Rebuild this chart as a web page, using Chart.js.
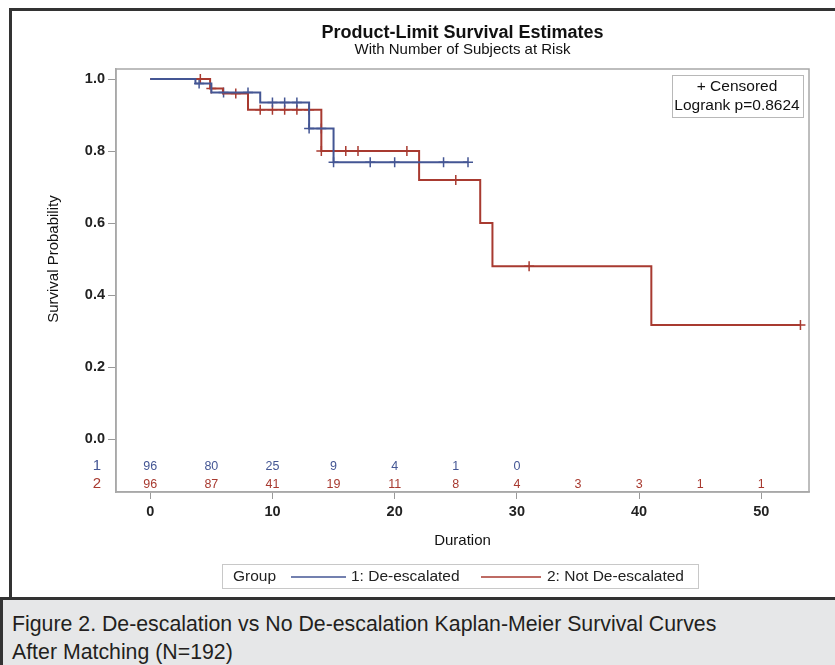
<!DOCTYPE html>
<html>
<head>
<meta charset="utf-8">
<script src="https://cdn.jsdelivr.net/npm/chart.js@4"></script>
<style>
body{margin:0;background:#fff;width:835px;height:665px;overflow:hidden;position:relative;font-family:"Liberation Sans",Arial,sans-serif}
#frame{position:absolute;left:9px;top:8px;width:830px;height:589px;border-left:3px solid #333;border-top:3px solid #333}
#wrap{position:absolute;left:0;top:0;width:835px;height:597px}
#caption{position:absolute;left:0;top:597px;width:835px;height:68px;background:#e6e7e8;border-top:3px solid #333;border-left:3px solid #333;box-sizing:border-box;padding:10px 0 0 9px;font-family:"Liberation Sans",Arial,sans-serif;font-size:21.3px;line-height:28px;color:#231f20}
</style>
</head>
<body>
<div id="frame"></div>
<div id="wrap"><canvas id="km" width="835" height="597"></canvas></div>
<div id="caption">Figure 2. De-escalation vs No De-escalation Kaplan-Meier Survival Curves<br>After Matching (N=192)</div>
<script>
// group 1 : De-escalated
const t1 = [0, 3.7, 5.0, 9.0, 13.0, 15.0, 26.0]
const s1 = [1.0, 0.988, 0.963, 0.935, 0.863, 0.769, 0.769]
const cens1 = [4.0, 6.0, 8.0, 10.0, 11.0, 12.0, 13.0, 14.0, 15.0, 18.0, 20.0, 24.0, 26.0]
// group 2 : Not De-escalated
const t2 = [0, 4.9, 5.95, 8.0, 14.0, 22.0, 27.0, 28.0, 41.0, 53.2]
const s2 = [1.0, 0.974, 0.96, 0.915, 0.80, 0.72, 0.60, 0.48, 0.317, 0.317]
const cens2 = [4.1, 5.0, 7.0, 9.0, 10.0, 11.0, 12.0, 13.0, 14.0, 16.0, 17.0, 21.0, 25.0, 31.0, 53.2]
// number at risk
const riskTimes = [0, 5, 10, 15, 20, 25, 30, 35, 40, 45, 50]
const risk1 = [96, 80, 25, 9, 4, 1, 0]
const risk2 = [96, 87, 41, 19, 11, 8, 4, 3, 3, 1, 1]
const xTicks = [0, 10, 20, 30, 40, 50]
const yTicks = [0, 0.2, 0.4, 0.6, 0.8, 1.0]

const BLUE = "#445694"
const RED = "#a83a30"
const FONT = '"Liberation Sans",Arial,sans-serif'

const surv = (t, s, x)=>{
    let v = s[0]
    for(let i in t){
        if(t[i] <= x) v = s[i]
    }
    return v
}
const toPts = (t, s)=> t.map((x, i)=>({x: x, y: s[i]}))
const censPts = (c, t, s)=> c.map((x)=>({x: x, y: surv(t, s, x)}))

const extras = {
    id: "extras",
    afterDraw(chart){
        const ctx = chart.ctx
        const a = chart.chartArea
        const xs = chart.scales.x
        const ys = chart.scales.y
        ctx.save()
        // plot frame
        ctx.strokeStyle = "#a8a8a8"
        ctx.lineWidth = 1.5
        ctx.strokeRect(a.left, a.top, a.right - a.left, a.bottom - a.top)
        // titles
        const cx = (a.left + a.right) / 2
        ctx.fillStyle = "#111"
        ctx.textAlign = "center"
        ctx.textBaseline = "middle"
        ctx.font = 'bold 18px ' + FONT
        ctx.fillText("Product-Limit Survival Estimates", cx, 33)
        ctx.font = '15px ' + FONT
        ctx.fillText("With Number of Subjects at Risk", cx, 50)
        // y axis title, centred on the 0..1 range
        ctx.save()
        ctx.translate(54, (ys.getPixelForValue(0) + ys.getPixelForValue(1)) / 2)
        ctx.rotate(-Math.PI / 2)
        ctx.fillText("Survival Probability", 0, 0)
        ctx.restore()
        // censored / logrank box
        ctx.strokeStyle = "#b8b8b8"
        ctx.lineWidth = 1
        ctx.strokeRect(672.5, 75.5, 131, 42)
        ctx.fillStyle = "#111"
        ctx.font = '15.5px ' + FONT
        ctx.fillText("+ Censored", 737, 87)
        ctx.fillText("Logrank p=0.8624", 737, 106)
        // at-risk table
        ctx.font = '12.5px ' + FONT
        const yr1 = ys.getPixelForValue(-0.075)
        const yr2 = ys.getPixelForValue(-0.125)
        ctx.fillStyle = BLUE
        risk1.forEach((n, i)=> ctx.fillText(String(n), xs.getPixelForValue(riskTimes[i]), yr1))
        ctx.fillStyle = RED
        risk2.forEach((n, i)=> ctx.fillText(String(n), xs.getPixelForValue(riskTimes[i]), yr2))
        ctx.font = '15px ' + FONT
        ctx.fillStyle = BLUE
        ctx.fillText("1", 97, yr1)
        ctx.fillStyle = RED
        ctx.fillText("2", 97, yr2)
        // legend
        ctx.strokeStyle = "#c8c8c8"
        ctx.strokeRect(222.5, 564.5, 476, 24)
        ctx.font = '15.5px ' + FONT
        ctx.textAlign = "left"
        ctx.fillStyle = "#222"
        ctx.fillText("Group", 233, 577)
        ctx.lineWidth = 1.5
        ctx.strokeStyle = BLUE
        ctx.beginPath(); ctx.moveTo(291, 577); ctx.lineTo(346, 577); ctx.stroke()
        ctx.fillText("1: De-escalated", 351, 577)
        ctx.strokeStyle = RED
        ctx.beginPath(); ctx.moveTo(481, 577); ctx.lineTo(541, 577); ctx.stroke()
        ctx.fillText("2: Not De-escalated", 547, 577)
        ctx.restore()
    }
}

const ctx = document.getElementById("km").getContext("2d")
const kmChart = new Chart(ctx, {
    type: "line",
    data: {
        datasets: [
            {
                label: "1: De-escalated",
                data: toPts(t1, s1),
                borderColor: BLUE,
                borderWidth: 2,
                stepped: "before",
                pointRadius: 0,
                fill: false
            },
            {
                label: "2: Not De-escalated",
                data: toPts(t2, s2),
                borderColor: RED,
                borderWidth: 2,
                stepped: "before",
                pointRadius: 0,
                fill: false
            },
            {
                label: "cens1",
                data: censPts(cens1, t1, s1),
                showLine: false,
                pointStyle: "cross",
                pointRadius: 5,
                pointBorderWidth: 1.5,
                pointBorderColor: BLUE
            },
            {
                label: "cens2",
                data: censPts(cens2, t2, s2),
                showLine: false,
                pointStyle: "cross",
                pointRadius: 5,
                pointBorderWidth: 1.5,
                pointBorderColor: RED
            }
        ]
    },
    options: {
        responsive: false,
        animation: false,
        layout: {padding: {left: 0, top: 69, right: 26, bottom: 0}},
        plugins: {
            legend: {display: false},
            tooltip: {enabled: false}
        },
        scales: {
            x: {
                type: "linear",
                min: -2.8,
                max: 53.9,
                afterBuildTicks: (s)=>{ s.ticks = xTicks.map((v)=>({value: v})) },
                afterFit: (s)=>{ s.height = 105 },
                grid: {drawOnChartArea: false, drawTicks: true, tickLength: 7, color: "#999"},
                border: {display: true, color: "#a8a8a8", width: 1.5},
                ticks: {color: "#222", padding: 4, font: {family: "Liberation Sans", size: 14.5, weight: "bold"}},
                title: {display: true, text: "Duration", color: "#111", padding: {top: 0, bottom: 47}, font: {family: "Liberation Sans", size: 15}}
            },
            y: {
                type: "linear",
                min: -0.147,
                max: 1.028,
                afterBuildTicks: (s)=>{ s.ticks = yTicks.map((v)=>({value: v})) },
                afterFit: (s)=>{ s.width = 116 },
                grid: {drawOnChartArea: false, drawTicks: true, tickLength: 8, color: "#999"},
                border: {display: true, color: "#a8a8a8", width: 1.5},
                ticks: {color: "#222", padding: 3, font: {family: "Liberation Sans", size: 14.5, weight: "bold"}, callback: (v)=> Number(v).toFixed(1)},
                title: {display: false}
            }
        }
    },
    plugins: [extras]
})
</script>
</body>
</html>
